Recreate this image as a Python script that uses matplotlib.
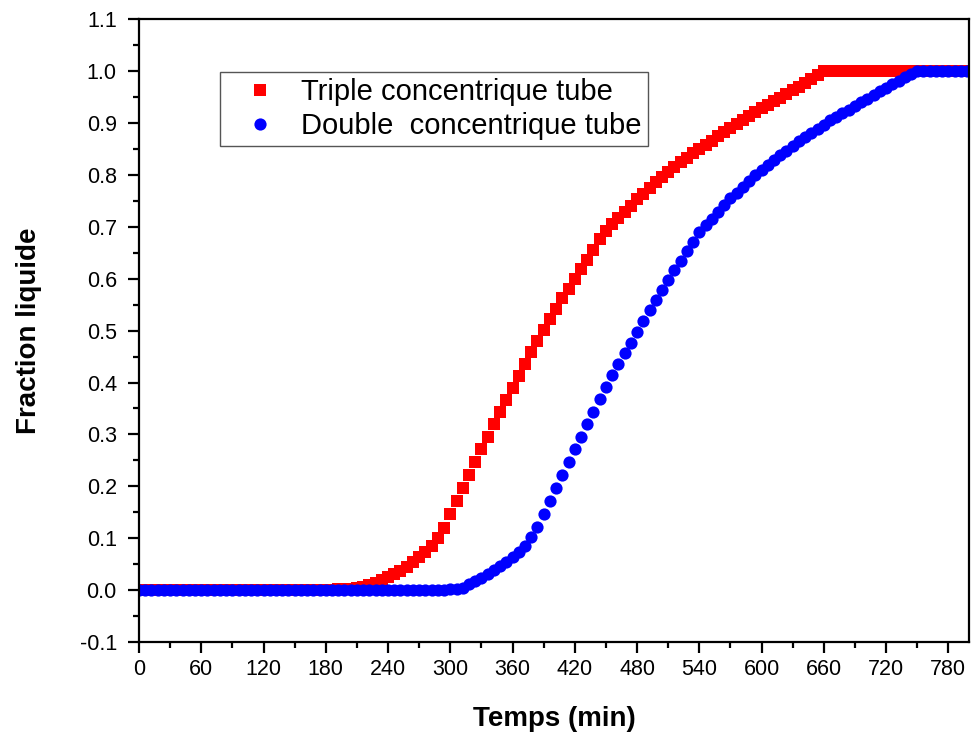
import numpy as np
import matplotlib
matplotlib.use("Agg")
import matplotlib.pyplot as plt
from matplotlib.ticker import MultipleLocator, FormatStrFormatter

plt.rcParams['font.family'] = ['Liberation Sans', 'DejaVu Sans']
plt.rcParams['axes.unicode_minus'] = False

# temps en minutes (pas de 6 min)
temps = np.arange(0, 800, 6)

triple = [
    0.0, 0.0, 0.0, 0.0, 0.0, 0.0, 0.0, 0.0, 0.0, 0.0,
    0.0, 0.0, 0.0, 0.0, 0.0, 0.0, 0.0, 0.0, 0.0, 0.0,
    0.0, 0.0, 0.0, 0.0, 0.0, 0.0,
    0.0, 0.0, 0.0, 0.001, 0.001, 0.001, 0.002, 0.002, 0.003, 0.004,
    0.006, 0.009, 0.014, 0.019, 0.025, 0.031, 0.037, 0.045, 0.054, 0.063,
    0.073, 0.085, 0.100, 0.120, 0.146, 0.171, 0.196, 0.221, 0.246, 0.271,
    0.295, 0.320, 0.343, 0.367, 0.390, 0.413, 0.436, 0.458, 0.480, 0.501,
    0.522, 0.542, 0.562, 0.581, 0.600, 0.618, 0.636, 0.655, 0.676, 0.692,
    0.705, 0.717, 0.729, 0.741, 0.753, 0.764, 0.775, 0.786, 0.796, 0.806,
    0.815, 0.824, 0.833, 0.842, 0.850, 0.858, 0.866, 0.874, 0.882, 0.890,
    0.898, 0.906, 0.914, 0.921, 0.928, 0.935, 0.942, 0.949, 0.956, 0.963,
    0.970, 0.977, 0.985, 0.992,
    1.0, 1.0, 1.0, 1.0, 1.0, 1.0, 1.0, 1.0, 1.0, 1.0,
    1.0, 1.0, 1.0, 1.0, 1.0, 1.0, 1.0, 1.0, 1.0, 1.0,
    1.0, 1.0, 1.0, 1.0,
]

double = [
    0.0, 0.0, 0.0, 0.0, 0.0, 0.0, 0.0, 0.0, 0.0, 0.0,
    0.0, 0.0, 0.0, 0.0, 0.0, 0.0, 0.0, 0.0, 0.0, 0.0,
    0.0, 0.0, 0.0, 0.0, 0.0, 0.0, 0.0, 0.0, 0.0, 0.0,
    0.0, 0.0, 0.0, 0.0, 0.0, 0.0, 0.0, 0.0, 0.0, 0.0,
    0.0, 0.0, 0.0, 0.0, 0.0, 0.0, 0.0, 0.0, 0.0, 0.0,
    0.002, 0.003, 0.005, 0.011, 0.018, 0.024, 0.031, 0.038, 0.047, 0.055,
    0.063, 0.073, 0.086, 0.103, 0.122, 0.146, 0.171, 0.196, 0.221, 0.246,
    0.271, 0.296, 0.320, 0.344, 0.368, 0.392, 0.414, 0.435, 0.456, 0.477,
    0.498, 0.519, 0.539, 0.559, 0.578, 0.597, 0.616, 0.635, 0.653, 0.671,
    0.690, 0.703, 0.716, 0.729, 0.742, 0.755, 0.766, 0.777, 0.788, 0.799,
    0.809, 0.819, 0.829, 0.838, 0.847, 0.856, 0.865, 0.873, 0.881, 0.889,
    0.897, 0.905, 0.912, 0.919, 0.926, 0.933, 0.940, 0.947, 0.954, 0.961,
    0.968, 0.975, 0.981, 0.988, 0.994,
    1.0, 1.0, 1.0, 1.0, 1.0, 1.0, 1.0, 1.0, 1.0,
]

xticks = np.arange(0, 781, 60)
yticks = np.arange(-0.1, 1.11, 0.1)

fig = plt.figure(figsize=(9.72, 7.38), dpi=100)
ax = fig.add_axes([0.143, 0.130, 0.854, 0.844])

ax.plot(temps, triple, linestyle='none', marker='s', markersize=8,
        markeredgewidth=0, color='#ff0000', label='Triple concentrique tube')
ax.plot(temps, double, linestyle='none', marker='o', markersize=8.8,
        markeredgewidth=0, color='#0000ff', label='Double  concentrique tube')

ax.set_xlim(0, 800)
ax.set_ylim(-0.1, 1.1)
ax.set_xticks(xticks)
ax.set_yticks(yticks)
ax.xaxis.set_minor_locator(MultipleLocator(30))
ax.yaxis.set_minor_locator(MultipleLocator(0.05))
ax.yaxis.set_major_formatter(FormatStrFormatter('%.1f'))

for s in ax.spines.values():
    s.set_linewidth(1.6)
ax.tick_params(which='major', direction='out', length=8, width=1.6,
               labelsize=15.5, top=False, right=False)
ax.tick_params(axis='x', which='major', pad=4)
ax.tick_params(axis='y', which='major', pad=8)
ax.tick_params(which='minor', direction='out', length=4.5, width=1.6,
               top=False, right=False)

ax.set_xlabel('Temps (min)', fontsize=20, fontweight='bold', labelpad=19)
ax.set_ylabel('Fraction liquide', fontsize=20, fontweight='bold', labelpad=27)

leg = ax.legend(loc='upper left', bbox_to_anchor=(0.097, 0.915), fontsize=21,
                frameon=True, fancybox=False, framealpha=1, edgecolor='#555555',
                borderpad=0.2, handletextpad=0.25, labelspacing=0.2,
                handlelength=2.35, borderaxespad=0)
leg.get_frame().set_linewidth(1.0)

fig.savefig('out.png', dpi=100)
